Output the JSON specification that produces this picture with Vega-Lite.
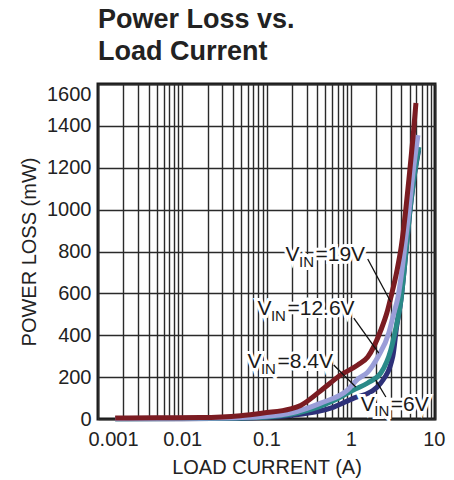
{
  "$schema": "https://vega.github.io/schema/vega-lite/v6.json",
  "autosize": "none",
  "width": 337,
  "height": 335,
  "padding": {"left": 98, "top": 84, "right": 19, "bottom": 61},
  "background": "white",
  "config": {
    "font": "Liberation Sans",
    "view": {"stroke": "#1a1a1a", "strokeWidth": 3},
    "axis": {
      "domain": false,
      "ticks": false,
      "grid": true,
      "gridColor": "#2a2a2a",
      "gridWidth": 1.4,
      "gridOpacity": 1,
      "labelFont": "Liberation Sans",
      "labelFontSize": 20,
      "labelColor": "#222222",
      "titleFont": "Liberation Sans",
      "titleFontSize": 20,
      "titleFontWeight": "normal",
      "titleColor": "#222222"
    }
  },
  "title": {
    "text": ["Power Loss vs.", "Load Current"],
    "anchor": "start",
    "frame": "group",
    "font": "Liberation Sans",
    "fontSize": 27,
    "fontWeight": "bold",
    "color": "#222222",
    "lineHeight": 32,
    "offset": 18
  },
  "datasets": {
    "curves": [
      {"vin": "6V", "i": 0.0016, "p": 1},
      {"vin": "6V", "i": 0.01, "p": 1.5},
      {"vin": "6V", "i": 0.05, "p": 4},
      {"vin": "6V", "i": 0.1, "p": 8},
      {"vin": "6V", "i": 0.2, "p": 18},
      {"vin": "6V", "i": 0.4, "p": 35},
      {"vin": "6V", "i": 0.628, "p": 57},
      {"vin": "6V", "i": 1.087, "p": 100},
      {"vin": "6V", "i": 1.73, "p": 130},
      {"vin": "6V", "i": 2.28, "p": 172},
      {"vin": "6V", "i": 3.16, "p": 300},
      {"vin": "6V", "i": 3.5, "p": 440},
      {"vin": "6V", "i": 3.94, "p": 568},
      {"vin": "6V", "i": 4.5, "p": 790},
      {"vin": "6V", "i": 5.0, "p": 980},
      {"vin": "6V", "i": 5.7, "p": 1165},
      {"vin": "6V", "i": 6.4, "p": 1285},
      {"vin": "8.4V", "i": 0.0016, "p": 1.5},
      {"vin": "8.4V", "i": 0.01, "p": 2},
      {"vin": "8.4V", "i": 0.05, "p": 5},
      {"vin": "8.4V", "i": 0.1, "p": 10},
      {"vin": "8.4V", "i": 0.2, "p": 24},
      {"vin": "8.4V", "i": 0.4, "p": 55},
      {"vin": "8.4V", "i": 0.628, "p": 88},
      {"vin": "8.4V", "i": 1.087, "p": 139},
      {"vin": "8.4V", "i": 1.59, "p": 172},
      {"vin": "8.4V", "i": 2.28, "p": 220},
      {"vin": "8.4V", "i": 2.99, "p": 330},
      {"vin": "8.4V", "i": 3.5, "p": 450},
      {"vin": "8.4V", "i": 3.94, "p": 568},
      {"vin": "8.4V", "i": 4.5, "p": 793},
      {"vin": "8.4V", "i": 5.0, "p": 984},
      {"vin": "8.4V", "i": 5.7, "p": 1170},
      {"vin": "8.4V", "i": 6.45, "p": 1299},
      {"vin": "12.6V", "i": 0.0016, "p": 2},
      {"vin": "12.6V", "i": 0.01, "p": 3},
      {"vin": "12.6V", "i": 0.05, "p": 7},
      {"vin": "12.6V", "i": 0.1, "p": 13},
      {"vin": "12.6V", "i": 0.2, "p": 30},
      {"vin": "12.6V", "i": 0.44, "p": 76},
      {"vin": "12.6V", "i": 0.92, "p": 139},
      {"vin": "12.6V", "i": 1.21, "p": 190},
      {"vin": "12.6V", "i": 1.59, "p": 224},
      {"vin": "12.6V", "i": 2.1, "p": 296},
      {"vin": "12.6V", "i": 2.83, "p": 411},
      {"vin": "12.6V", "i": 3.25, "p": 506},
      {"vin": "12.6V", "i": 3.63, "p": 580},
      {"vin": "12.6V", "i": 4.3, "p": 793},
      {"vin": "12.6V", "i": 4.9, "p": 990},
      {"vin": "12.6V", "i": 5.5, "p": 1180},
      {"vin": "12.6V", "i": 6.28, "p": 1356},
      {"vin": "19V", "i": 0.0016, "p": 5},
      {"vin": "19V", "i": 0.005, "p": 6},
      {"vin": "19V", "i": 0.0164, "p": 7},
      {"vin": "19V", "i": 0.049, "p": 16},
      {"vin": "19V", "i": 0.092, "p": 29},
      {"vin": "19V", "i": 0.193, "p": 48},
      {"vin": "19V", "i": 0.254, "p": 65},
      {"vin": "19V", "i": 0.44, "p": 135},
      {"vin": "19V", "i": 0.76, "p": 210},
      {"vin": "19V", "i": 1.21, "p": 258},
      {"vin": "19V", "i": 1.59, "p": 296},
      {"vin": "19V", "i": 2.28, "p": 425},
      {"vin": "19V", "i": 2.68, "p": 506},
      {"vin": "19V", "i": 3.0, "p": 583},
      {"vin": "19V", "i": 3.5, "p": 700},
      {"vin": "19V", "i": 4.0, "p": 830},
      {"vin": "19V", "i": 4.5, "p": 1000},
      {"vin": "19V", "i": 5.0, "p": 1180},
      {"vin": "19V", "i": 5.5, "p": 1350},
      {"vin": "19V", "i": 5.94, "p": 1509}
    ],
    "labels": [
      {"i": 0.168, "p": 783, "rest": "=19V"},
      {"i": 0.0781, "p": 525, "rest": "=12.6V"},
      {"i": 0.0594, "p": 270, "rest": "=8.4V"},
      {"i": 1.315, "p": 69, "rest": "=6V"}
    ],
    "leaders": [
      {"i": 1.59, "p": 764, "i2": 2.99, "p2": 559},
      {"i": 1.087, "p": 482, "i2": 2.15, "p2": 315},
      {"i": 0.628, "p": 258, "i2": 1.148, "p2": 153},
      {"i": 1.98, "p": 186, "i2": 2.61, "p2": 105}
    ]
  },
  "encoding": {
    "x": {
      "field": "i",
      "type": "quantitative",
      "title": "LOAD CURRENT (A)",
      "scale": {"type": "log", "domain": [0.001, 10]},
      "axis": {
        "values": [0.001, 0.002, 0.003, 0.004, 0.005, 0.006, 0.007, 0.008, 0.009,
                   0.01, 0.02, 0.03, 0.04, 0.05, 0.06, 0.07, 0.08, 0.09,
                   0.1, 0.2, 0.3, 0.4, 0.5, 0.6, 0.7, 0.8, 0.9,
                   1, 2, 3, 4, 5, 6, 7, 8, 9, 10],
        "format": "~g",
        "labelExpr": "indexof([0.001, 0.01, 0.1, 1, 10], datum.value) >= 0 ? datum.label : ''",
        "labelOverlap": false,
        "labelFlush": true,
        "labelFlushOffset": 10,
        "labelPadding": 10,
        "titlePadding": 8
      }
    },
    "y": {
      "field": "p",
      "type": "quantitative",
      "title": "POWER LOSS (mW)",
      "scale": {"domain": [0, 1600]},
      "axis": {
        "values": [0, 200, 400, 600, 800, 1000, 1200, 1400, 1600],
        "format": "d",
        "labelPadding": 7,
        "titlePadding": 7,
        "labelBaseline": {"condition": {"test": "datum.value == 1600", "value": "top"}, "value": "middle"}
      }
    }
  },
  "layer": [
    {
      "data": {"name": "curves"},
      "mark": {"type": "line", "strokeWidth": 5, "interpolate": "monotone"},
      "encoding": {
        "color": {
          "field": "vin",
          "type": "nominal",
          "legend": null,
          "scale": {
            "domain": ["6V", "8.4V", "12.6V", "19V"],
            "range": ["#2e3179", "#2a8a88", "#9a9ed8", "#7b1c22"]
          }
        }
      }
    },
    {
      "data": {"name": "leaders"},
      "mark": {"type": "rule", "color": "#111111", "strokeWidth": 1.3},
      "encoding": {
        "x2": {"field": "i2"},
        "y2": {"field": "p2"}
      }
    },
    {
      "data": {"name": "labels"},
      "mark": {"type": "text", "text": "V", "align": "left", "baseline": "middle", "fontSize": 21, "fill": "white", "stroke": "white", "strokeWidth": 6}
    },
    {
      "data": {"name": "labels"},
      "mark": {"type": "text", "text": "IN", "align": "left", "baseline": "middle", "fontSize": 15, "dx": 13.5, "dy": 6.5, "fill": "white", "stroke": "white", "strokeWidth": 6}
    },
    {
      "data": {"name": "labels"},
      "mark": {"type": "text", "align": "left", "baseline": "middle", "fontSize": 21, "dx": 30, "fill": "white", "stroke": "white", "strokeWidth": 6},
      "encoding": {"text": {"field": "rest"}}
    },
    {
      "data": {"name": "labels"},
      "mark": {"type": "text", "text": "V", "align": "left", "baseline": "middle", "fontSize": 21, "color": "#1a1a1a"}
    },
    {
      "data": {"name": "labels"},
      "mark": {"type": "text", "text": "IN", "align": "left", "baseline": "middle", "fontSize": 15, "dx": 13.5, "dy": 6.5, "color": "#1a1a1a"}
    },
    {
      "data": {"name": "labels"},
      "mark": {"type": "text", "align": "left", "baseline": "middle", "fontSize": 21, "dx": 30, "color": "#1a1a1a"},
      "encoding": {"text": {"field": "rest"}}
    }
  ]
}
